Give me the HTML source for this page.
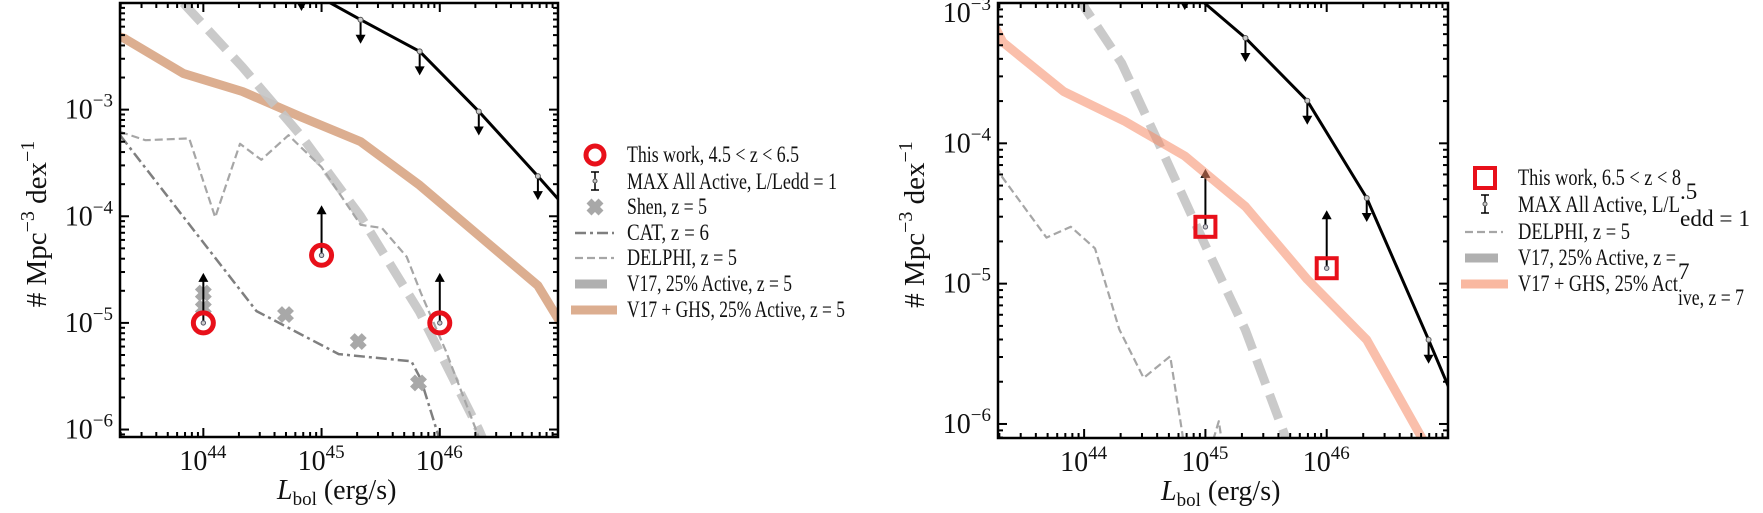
<!DOCTYPE html>
<html><head><meta charset="utf-8"><style>
html,body{margin:0;padding:0;background:#fff;overflow:hidden;width:1763px;height:513px;}
svg{display:block;font-family:"Liberation Serif",serif;}
</style></head><body>
<svg id="fig" xmlns="http://www.w3.org/2000/svg" width="1763" height="513" viewBox="0 0 1763 513"></svg>
<script>
// ---------- Left panel data (log10 L, log10 phi) ----------
const maxL_left = [44.83, 45.33, 45.83, 46.33, 46.83, 47.33];
const maxPhi_left = [-1.85, -2.157, -2.454, -3.017, -3.624, -4.25];
const ghsL_left = [43.2, 43.33, 43.83, 44.33, 44.83, 45.33, 45.83, 46.33, 46.83, 47.0, 47.1];
const ghsPhi_left = [-2.29, -2.33, -2.66, -2.83, -3.07, -3.30, -3.71, -4.18, -4.65, -4.96, -5.15];
const v17L_left = [43.83, 44.33, 44.83, 45.33, 45.83, 46.33, 46.83];
const v17Phi_left = [-2.0, -2.6, -3.25, -4.0, -4.9, -6.0, -7.3];
const delphiL_left = [43.2, 43.325, 43.51, 43.88, 44.10, 44.31, 44.49, 44.72, 45.0, 45.33, 45.51, 45.72, 45.84, 46.05, 46.33, 46.5];
const delphiPhi_left = [-3.17, -3.219, -3.287, -3.27, -4.01, -3.32, -3.47, -3.24, -3.54, -4.08, -4.11, -4.38, -4.72, -5.26, -6.07, -6.6];
const catL_left = [43.2, 43.305, 44.45, 45.145, 45.76, 45.84, 46.0, 46.2];
const catPhi_left = [-3.07, -3.253, -4.889, -5.293, -5.36, -5.53, -6.10, -6.8];
const shenL = [44.0, 44.0, 44.695, 45.31, 45.82];
const shenPhi = [-4.72, -4.86, -4.922, -5.175, -5.563];
const workL_left = [44.0, 45.0, 46.0];
const workPhi_left = [-5.0, -4.366, -5.0];
// ---------- Right panel data ----------
const maxL_right = [44.83, 45.33, 45.84, 46.33, 46.84, 47.33];
const maxPhi_right = [-2.88, -3.249, -3.697, -4.39, -5.40, -6.4];
const ghsL_right = [43.2, 43.33, 43.83, 44.33, 44.83, 45.33, 45.84, 46.33, 46.83, 47.0];
const ghsPhi_right = [-3.06, -3.28, -3.63, -3.84, -4.09, -4.45, -4.97, -5.40, -6.17, -6.6];
const v17L_right = [43.83, 44.01, 44.31, 44.61, 44.99, 45.33, 45.65, 45.83];
const v17Phi_right = [-2.7, -3.04, -3.43, -3.99, -4.71, -5.33, -6.07, -6.5];
const delphiL_right = [43.2, 43.31, 43.69, 43.89, 44.09, 44.29, 44.49, 44.71, 44.81, 44.9, 45.0, 45.11, 45.2];
const delphiPhi_right = [-4.0, -4.223, -4.672, -4.595, -4.749, -5.326, -5.672, -5.518, -6.07, -6.8, -6.3, -5.98, -6.5];
const workL_right = [45.0, 46.0];
const workPhi_right = [-4.595, -4.89];
const xTickLabels = ["44", "45", "46"];
const yTickLabelsLeft = ["-3", "-4", "-5", "-6"];
const yTickLabelsRight = ["-3", "-4", "-5", "-6"];

const NS = "http://www.w3.org/2000/svg";
const svg = document.getElementById("fig");
function el(tag, attrs, parent) {
  const e = document.createElementNS(NS, tag);
  for (const k in attrs) e.setAttribute(k, attrs[k]);
  (parent || svg).appendChild(e);
  return e;
}
function makePanel(id, x0, x1, y0, y1, xmin, xmax, ymin, ymax) {
  const g = el("g", {});
  
  
  const clip = el("clipPath", {id: id + "-clip"}, g);
  el("rect", {x: x0, y: y0, width: x1 - x0, height: y1 - y0}, clip);
  const plot = el("g", {"clip-path": "url(#" + id + "-clip)"}, g);
  const xs = v => x0 + (v - xmin) / (xmax - xmin) * (x1 - x0);
  const ys = v => y0 + (ymax - v) / (ymax - ymin) * (y1 - y0);
  return {g, plot, xs, ys, x0, x1, y0, y1, xmin, xmax, ymin, ymax};
}
function line(P, xsArr, ysArr, style, name) {
  const pts = xsArr.map((v, i) => P.xs(v).toFixed(1) + "," + P.ys(ysArr[i]).toFixed(1)).join(" ");
  const p = el("polyline", Object.assign({points: pts, fill: "none", "stroke-linejoin": "round"}, style), P.plot);
  
  
  return p;
}
function arrow(parent, x, y, len, dir, color) {
  const ty = y + dir * len;
  el("line", {x1: x, y1: y, x2: x, y2: ty - dir * 6, stroke: color, "stroke-width": 2}, parent);
  el("polygon", {points: `${x},${ty} ${x - 5},${ty - dir * 9} ${x + 5},${ty - dir * 9}`, fill: color}, parent);
}
function axes(P, yLabels, name) {
  const g = el("g", {}, P.g);
  
  
  el("rect", {x: P.x0, y: P.y0, width: P.x1 - P.x0, height: P.y1 - P.y0, fill: "none", stroke: "#000", "stroke-width": 2.5}, g);
  for (let d = Math.floor(P.xmin); d <= Math.ceil(P.xmax); d++) {
    for (let m = 1; m <= 9; m++) {
      const v = d + Math.log10(m);
      if (v < P.xmin || v > P.xmax) continue;
      const x = P.xs(v), L = m === 1 ? 9 : 5;
      el("line", {x1: x, y1: P.y1, x2: x, y2: P.y1 - L, stroke: "#000", "stroke-width": 2}, g);
      el("line", {x1: x, y1: P.y0, x2: x, y2: P.y0 + L, stroke: "#000", "stroke-width": 2}, g);
    }
  }
  for (let d = Math.floor(P.ymin); d <= Math.ceil(P.ymax); d++) {
    for (let m = 1; m <= 9; m++) {
      const v = d + Math.log10(m);
      if (v < P.ymin || v > P.ymax + 1e-9) continue;
      const y = P.ys(v), L = m === 1 ? 9 : 5;
      el("line", {x1: P.x0, y1: y, x2: P.x0 + L, y2: y, stroke: "#000", "stroke-width": 2}, g);
      el("line", {x1: P.x1, y1: y, x2: P.x1 - L, y2: y, stroke: "#000", "stroke-width": 2}, g);
    }
  }
  xTickLabels.forEach(s => {
    const x = P.xs(parseFloat(s));
    const t = el("text", {x: x - 24, y: P.y1 + 33, "font-size": 28, fill: "#111"}, g);
    
    
    t.textContent = "10";
    const s2 = el("tspan", {dy: -12, "font-size": 19}, t);
    s2.textContent = s;
  });
  yLabels.forEach(s => {
    const y = P.ys(parseFloat(s));
    const t = el("text", {x: P.x0 - 7, y: Math.max(y + 9, 22), "font-size": 28, fill: "#111", "text-anchor": "end"}, g);
    
    
    t.textContent = "10";
    const s2 = el("tspan", {dy: -12, "font-size": 19}, t);
    s2.textContent = s.replace("-", "\u2212");
  });
  const cx = (P.x0 + P.x1) / 2;
  const xl = el("text", {x: cx - 62, y: P.y1 + 62, "font-size": 28, fill: "#111"}, g);
  
  
  const a = el("tspan", {"font-style": "italic"}, xl); a.textContent = "L";
  const b = el("tspan", {dy: 6, "font-size": 19}, xl); b.textContent = "bol";
  const c = el("tspan", {dy: -6}, xl); c.textContent = " (erg/s)";
  const ylx = P.x0 - 74, yly = (P.y0 + P.y1) / 2 + 4;
  const yl = el("text", {x: ylx, y: yly, "font-size": 29, fill: "#111", "text-anchor": "middle", transform: `rotate(-90 ${ylx} ${yly})`}, g);
  
  
  const t1 = el("tspan", {}, yl); t1.textContent = "# Mpc";
  const t2 = el("tspan", {dy: -12, "font-size": 20}, yl); t2.textContent = "\u22123";
  const t3 = el("tspan", {dy: 12}, yl); t3.textContent = " dex";
  const t4 = el("tspan", {dy: -12, "font-size": 20}, yl); t4.textContent = "\u22121";
}
function crossMark(parent, x, y, s, color) {
  el("line", {x1: x - s, y1: y - s, x2: x + s, y2: y + s, stroke: color, "stroke-width": 7}, parent);
  el("line", {x1: x - s, y1: y + s, x2: x + s, y2: y - s, stroke: color, "stroke-width": 7}, parent);
}
function maxSeries(P, L, Phi, name) {
  line(P, L, Phi, {stroke: "#000", "stroke-width": 3}, name);
  L.forEach((v, i) => {
    const g = el("g", {}, P.plot);
    
    
    const x = P.xs(v), y = P.ys(Phi[i]);
    arrow(g, x, y, 24, 1, "#000");
    el("circle", {cx: x, cy: y, r: 2.5, fill: "#ccc", stroke: "#555", "stroke-width": 1}, g);
  });
}

// ---------- Left panel ----------
const PL = makePanel("left-panel", 120, 558, 3, 437, 43.295, 47.0, -6.07, -2.0);
line(PL, ghsL_left, ghsPhi_left, {stroke: "#dcae90", "stroke-width": 9}, "v17-ghs-line");
line(PL, v17L_left, v17Phi_left, {stroke: "#c4c4c4", "stroke-width": 9, "stroke-dasharray": "26,11", opacity: 0.9}, "v17-line");
line(PL, delphiL_left, delphiPhi_left, {stroke: "#a6a6a6", "stroke-width": 2.2, "stroke-dasharray": "8,4"}, "delphi-line");
line(PL, catL_left, catPhi_left, {stroke: "#7f7f7f", "stroke-width": 2.5, "stroke-dasharray": "11,4,3,4"}, "cat-line");
shenL.forEach((v, i) => {
  const g = el("g", {}, PL.plot);
  
  
  crossMark(g, PL.xs(v), PL.ys(shenPhi[i]), 6, "#a8a8a8");
});
maxSeries(PL, maxL_left, maxPhi_left, "max-line");
workL_left.forEach((v, i) => {
  const g = el("g", {}, PL.plot);
  
  
  const x = PL.xs(v), y = PL.ys(workPhi_left[i]);
  arrow(g, x, y, 50, -1, "#000");
  el("circle", {cx: x, cy: y, r: 10, fill: "none", stroke: "#e8101a", "stroke-width": 5}, g);
  el("circle", {cx: x, cy: y, r: 2.2, fill: "#ccc", stroke: "#556", "stroke-width": 1}, g);
});
axes(PL, yTickLabelsLeft, "left");

// ---------- Right panel ----------
const PR = makePanel("right-panel", 998, 1448, 3, 438, 43.29, 47.0, -6.1, -3.0);
line(PR, delphiL_right, delphiPhi_right, {stroke: "#a6a6a6", "stroke-width": 2.2, "stroke-dasharray": "8,4"}, "delphi-line");
line(PR, v17L_right, v17Phi_right, {stroke: "#c4c4c4", "stroke-width": 9, "stroke-dasharray": "26,11", opacity: 0.9}, "v17-line");
maxSeries(PR, maxL_right, maxPhi_right, "max-line");
workL_right.forEach((v, i) => {
  const g = el("g", {}, PR.plot);
  
  
  const x = PR.xs(v), y = PR.ys(workPhi_right[i]);
  arrow(g, x, y, 58, -1, "#000");
  el("rect", {x: x - 10, y: y - 10, width: 20, height: 20, fill: "none", stroke: "#e8101a", "stroke-width": 4}, g);
  el("circle", {cx: x, cy: y, r: 2.2, fill: "#ccc", stroke: "#556", "stroke-width": 1}, g);
});
line(PR, ghsL_right, ghsPhi_right, {stroke: "#f58a66", "stroke-width": 9, opacity: 0.55}, "v17-ghs-line");
axes(PR, yTickLabelsRight, "right");

// ---------- Legends ----------
function ltext(parent, x, y, s, w) {
  const attrs = {x: x, y: y, "font-size": 23, fill: "#111"};
  if (w) { attrs.textLength = w; attrs.lengthAdjust = "spacingAndGlyphs"; }
  const t = el("text", attrs, parent);
  t.textContent = s;
  return t;
}
const lgL = el("g", {});


el("circle", {cx: 595, cy: 155, r: 9, fill: "none", stroke: "#e8101a", "stroke-width": 5}, lgL);
el("line", {x1: 595, y1: 172, x2: 595, y2: 190, stroke: "#000", "stroke-width": 1.5}, lgL);
el("line", {x1: 591, y1: 172, x2: 599, y2: 172, stroke: "#000", "stroke-width": 1.5}, lgL);
el("line", {x1: 591, y1: 190, x2: 599, y2: 190, stroke: "#000", "stroke-width": 1.5}, lgL);
el("circle", {cx: 595, cy: 181, r: 2, fill: "#ccc", stroke: "#555", "stroke-width": 1}, lgL);
crossMark(lgL, 595, 207, 6, "#a8a8a8");
el("line", {x1: 575, y1: 233, x2: 614, y2: 233, stroke: "#7f7f7f", "stroke-width": 2.5, "stroke-dasharray": "11,4,3,4"}, lgL);
el("line", {x1: 575, y1: 258, x2: 614, y2: 258, stroke: "#a6a6a6", "stroke-width": 2.2, "stroke-dasharray": "8,4"}, lgL);
el("line", {x1: 575, y1: 284, x2: 607, y2: 284, stroke: "#b0b0b0", "stroke-width": 9}, lgL);
el("line", {x1: 571, y1: 310, x2: 617, y2: 310, stroke: "#dcae90", "stroke-width": 9}, lgL);
ltext(lgL, 627, 162, "This work, 4.5 < z < 6.5", 172);
ltext(lgL, 627, 189, "MAX All Active, L/Ledd = 1", 210);
ltext(lgL, 627, 214, "Shen, z = 5", 80);
ltext(lgL, 627, 240, "CAT, z = 6", 82);
ltext(lgL, 627, 265, "DELPHI, z = 5", 110);
ltext(lgL, 627, 291, "V17, 25% Active, z = 5", 165);
ltext(lgL, 627, 317, "V17 + GHS, 25% Active, z = 5", 218);

const lgR = el("g", {});


el("rect", {x: 1475, y: 168, width: 20, height: 20, fill: "none", stroke: "#e8101a", "stroke-width": 4}, lgR);
el("line", {x1: 1485, y1: 195, x2: 1485, y2: 213, stroke: "#000", "stroke-width": 1.5}, lgR);
el("line", {x1: 1481, y1: 195, x2: 1489, y2: 195, stroke: "#000", "stroke-width": 1.5}, lgR);
el("line", {x1: 1481, y1: 213, x2: 1489, y2: 213, stroke: "#000", "stroke-width": 1.5}, lgR);
el("circle", {cx: 1485, cy: 204, r: 2, fill: "#ccc", stroke: "#555", "stroke-width": 1}, lgR);
el("line", {x1: 1465, y1: 232, x2: 1503, y2: 232, stroke: "#a6a6a6", "stroke-width": 2.2, "stroke-dasharray": "8,4"}, lgR);
el("line", {x1: 1465, y1: 258, x2: 1498, y2: 258, stroke: "#b0b0b0", "stroke-width": 9}, lgR);
el("line", {x1: 1461, y1: 284, x2: 1508, y2: 284, stroke: "#f9b8a0", "stroke-width": 9}, lgR);
ltext(lgR, 1518, 185, "This work, 6.5 < z < 8", 163);
ltext(lgR, 1680, 199, ".5");
ltext(lgR, 1518, 212, "MAX All Active, L/L", 162);
ltext(lgR, 1680, 226, "edd = 1", 70);
ltext(lgR, 1518, 239, "DELPHI, z = 5", 112);
ltext(lgR, 1518, 265, "V17, 25% Active, z =", 158);
ltext(lgR, 1678, 279, "7");
ltext(lgR, 1518, 291, "V17 + GHS, 25% Act", 160);
ltext(lgR, 1678, 305, "ive, z = 7", 66);
</script>
</body></html>
